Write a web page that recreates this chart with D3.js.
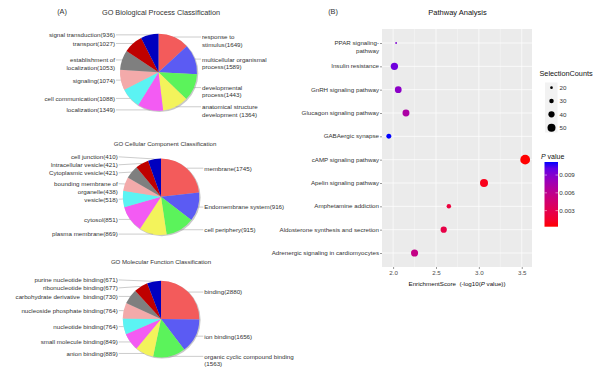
<!DOCTYPE html>
<html>
<head>
<meta charset="utf-8">
<script src="https://cdn.jsdelivr.net/npm/d3@7"></script>
<style>
  body { margin: 0; background: #fff; }
  svg { font-family: "Liberation Sans", Arial, sans-serif; }
</style>
</head>
<body>
<div id="chart"></div>
<script>
// slice colours (shared by all three pies, clockwise from 12 o'clock)
var sliceColors = ["#F35B5B", "#5B5BF3", "#5BF35B", "#F3F35B", "#F35BF3",
                   "#5BF3F3", "#F3AAAA", "#7F7F7F", "#BF0000", "#0000BF"];

// GO Biological Process ("|" = line break)
var bpNames = ["response to|stimulus", "multicellular organismal|process", "developmental|process",
               "anatomical structure|development ", "localization", "cell communication",
               "signaling", "establishment of|localization", "transport", "signal transduction"];
var bpValues = [1649, 1589, 1443, 1364, 1349, 1088, 1074, 1053, 1027, 936];

// GO Cellular Component
var ccNames = ["membrane", "Endomembrane system", "cell periphery", "plasma membrane", "cytosol",
               "vesicle", "bounding membrane of|organelle", "Cytoplasmic vesicle",
               "Intracellular vesicle", "cell junction"];
var ccValues = [1745, 916, 915, 869, 851, 518, 438, 421, 421, 410];

// GO Molecular Function
var mfNames = ["binding", "ion binding", "organic cyclic compound binding|", "anion binding",
               "small molecule binding", "nucleotide binding", "nucleoside phosphate binding",
               "carbohydrate derivative  binding", "ribonucleotide binding", "purine nucleotide binding"];
var mfValues = [2880, 1656, 1563, 889, 849, 764, 764, 730, 677, 671];

// Pathway analysis
var pathways = ["PPAR signaling|pathway", "Insulin resistance", "GnRH signaling pathway",
                "Glucagon signaling pathway", "GABAergic synapse", "cAMP signaling pathway",
                "Apelin signaling pathway", "Amphetamine addiction",
                "Aldosterone synthesis and secretion", "Adrenergic signaling in cardiomyocytes"];
var enrichment = [2.035, 2.015, 2.06, 2.15, 1.95, 3.54, 3.06, 2.65, 2.59, 2.25];
var counts = [15, 46, 43, 44, 33, 60, 50, 30, 40, 45];
var pValues = [0.0092, 0.0097, 0.0087, 0.0071, 0.0112, 0.00029, 0.00087, 0.0022, 0.0026, 0.0056];
var xTicks = [2.0, 2.5, 3.0, 3.5];
var xMinor = [2.25, 2.75, 3.25];
var sizeBreaks = [20, 30, 40, 50];
var pTicks = [0.003, 0.006, 0.009];

var svg = d3.select("#chart").append("svg")
            .attr("width", 600)
            .attr("height", 371);

var textColor = "#333";
var labelSize = 6.2;

// ---------- panel A ----------
svg.append("text")
   .attr("x", 62).attr("y", 13.5)
   .attr("text-anchor", "middle")
   .style("font-size", "7.3px")
   .attr("fill", textColor)
   .text("(A)");

function drawPie(names, values, cx, cy, r, title, titleX, titleY, titleSize)
{
    svg.append("text")
       .attr("x", titleX).attr("y", titleY)
       .attr("text-anchor", "middle")
       .style("font-size", titleSize + "px")
       .attr("fill", textColor)
       .text(title);

    var pie = d3.pie().sort(null).value(function(d) { return d.value; });
    var arcs = pie(values.map(function(v, i) { return {name: names[i], value: v, i: i}; }));
    var arc = d3.arc().innerRadius(0).outerRadius(r);

    var g = svg.append("g").attr("transform", "translate(" + cx + "," + cy + ")");

    // soft shadow under the pie
    g.append("circle")
     .attr("cx", 0.9).attr("cy", 0.9).attr("r", r + 0.4)
     .attr("fill", "#9a9a9a").attr("opacity", 0.55);

    g.selectAll("path.slice")
     .data(arcs)
     .enter().append("path")
     .attr("class", "slice")
     .attr("d", arc)
     .attr("fill", function(d) { return sliceColors[d.data.i]; });

    // labels sit at the height of each slice's mid angle
    var labels = arcs.map(function(d) {
        var mid = (d.startAngle + d.endAngle) / 2;
        var raw = d.data.name.split("|");
        var lines = [d.data.name + "(" + d.data.value + ")"];
        if (raw.length > 1) {
            lines = [raw[0], raw[1] + "(" + d.data.value + ")"];
        }
        return {
            ax: Math.sin(mid) * r,
            ay: -Math.cos(mid) * r,
            y: -Math.cos(mid) * r + 1,
            right: mid < Math.PI,
            lines: lines
        };
    });

    // push overlapping labels apart
    var lineH = 7.5;
    [true, false].forEach(function(side) {
        var group = labels.filter(function(l) { return l.right == side; })
                          .sort(function(a, b) { return a.y - b.y; });
        for (var it = 0; it < 60; it++) {
            for (var k = 1; k < group.length; k++) {
                var prev = group[k - 1], cur = group[k];
                var need = prev.y + lineH * prev.lines.length + 0.5;
                if (cur.y < need) {
                    var shift = (need - cur.y) / 2;
                    prev.y -= shift;
                    cur.y += shift;
                }
            }
        }
    });

    labels.forEach(function(l) {
        var tx = l.right ? r + 5 : -r - 5;
        g.append("line")
         .attr("x1", l.ax).attr("y1", l.ay)
         .attr("x2", l.right ? tx - 1 : tx + 1).attr("y2", l.y - 1)
         .attr("stroke", "#999")
         .attr("stroke-width", 0.5);
        var t = g.append("text")
                 .attr("x", tx).attr("y", l.y)
                 .attr("text-anchor", l.right ? "start" : "end")
                 .style("font-size", labelSize + "px")
                 .style("white-space", "pre")
                 .attr("fill", textColor);
        l.lines.forEach(function(s, j) {
            t.append("tspan")
             .attr("x", tx)
             .attr("y", l.y + j * lineH + 1.4)
             .text(s);
        });
    });
}

drawPie(bpNames, bpValues, 158.5, 72.3, 38.5, "GO Biological Process Classification", 161, 14.5, 7.3);
drawPie(ccNames, ccValues, 161, 196.7, 38.3, "GO Cellular Component Classification", 165, 145.5, 6.1);
drawPie(mfNames, mfValues, 161, 319, 38.3, "GO Molecular Function Classification", 161, 263.5, 6.1);

// ---------- panel B ----------
var plot = {left: 382, right: 532, top: 29, bottom: 267};

svg.append("text")
   .attr("x", 333).attr("y", 13.5)
   .attr("text-anchor", "middle")
   .style("font-size", "7.3px")
   .attr("fill", textColor)
   .text("(B)");

svg.append("text")
   .attr("x", 457.5).attr("y", 15)
   .attr("text-anchor", "middle")
   .style("font-size", "7.5px")
   .attr("fill", "#111")
   .text("Pathway Analysis");

var xMin = d3.min(enrichment), xMax = d3.max(enrichment);
var xPad = (xMax - xMin) * 0.05;
var xScale = d3.scaleLinear()
               .domain([xMin - xPad, xMax + xPad])
               .range([plot.left, plot.right]);

var yScale = d3.scalePoint()
               .domain(pathways)
               .range([plot.top, plot.bottom])
               .padding(0.6);

var rScale = d3.scaleLinear()
               .domain([20, 50])
               .range([1.35, 4.0]);

var pMin = d3.min(pValues), pMax = d3.max(pValues);
var colorScale = d3.scaleLinear()
                   .domain([pMin, pMax])
                   .range(["#FF0000", "#0000FF"])
                   .interpolate(d3.interpolateLab);

svg.append("rect")
   .attr("x", plot.left).attr("y", plot.top)
   .attr("width", plot.right - plot.left)
   .attr("height", plot.bottom - plot.top)
   .attr("fill", "#EBEBEB");

// grid
svg.selectAll("line.minor")
   .data(xMinor)
   .enter().append("line")
   .attr("x1", function(d) { return xScale(d); })
   .attr("x2", function(d) { return xScale(d); })
   .attr("y1", plot.top).attr("y2", plot.bottom)
   .attr("stroke", "#fff").attr("stroke-width", 0.35);

svg.selectAll("line.majorx")
   .data(xTicks)
   .enter().append("line")
   .attr("x1", function(d) { return xScale(d); })
   .attr("x2", function(d) { return xScale(d); })
   .attr("y1", plot.top).attr("y2", plot.bottom)
   .attr("stroke", "#fff").attr("stroke-width", 0.7);

svg.selectAll("line.majory")
   .data(pathways)
   .enter().append("line")
   .attr("x1", plot.left).attr("x2", plot.right)
   .attr("y1", function(d) { return yScale(d); })
   .attr("y2", function(d) { return yScale(d); })
   .attr("stroke", "#fff").attr("stroke-width", 0.7);

// points
svg.selectAll("circle.pt")
   .data(pathways)
   .enter().append("circle")
   .attr("class", "pt")
   .attr("cx", function(d, i) { return xScale(enrichment[i]); })
   .attr("cy", function(d) { return yScale(d); })
   .attr("r", function(d, i) { return rScale(counts[i]); })
   .attr("fill", function(d, i) { return colorScale(pValues[i]); });

// x axis
var xAxis = svg.append("g")
               .attr("transform", "translate(0," + plot.bottom + ")")
               .call(d3.axisBottom(xScale).tickValues(xTicks).tickSize(2).tickPadding(1.5)
                       .tickFormat(d3.format(".1f")));
xAxis.select(".domain").remove();
xAxis.selectAll("line").attr("stroke", "#333").attr("stroke-width", 0.5);
xAxis.selectAll("text")
     .attr("fill", "#4D4D4D")
     .style("font-size", "6.2px")
     .style("font-family", "Liberation Sans, Arial, sans-serif");

// y axis
var yAxis = svg.append("g")
               .attr("transform", "translate(" + plot.left + ",0)")
               .call(d3.axisLeft(yScale).tickSize(2).tickPadding(1.2).tickFormat(""));
yAxis.select(".domain").remove();
yAxis.selectAll("line").attr("stroke", "#333").attr("stroke-width", 0.5);

pathways.forEach(function(p) {
    var parts = p.split("|");
    var t = svg.append("text")
               .attr("text-anchor", "end")
               .style("font-size", "6.2px")
               .attr("fill", "#333");
    parts.forEach(function(s, j) {
        t.append("tspan")
         .attr("x", plot.left - 3)
         .attr("y", yScale(p) + 2.1 + j * 8)
         .text(j == 0 && parts.length > 1 ? s + "-" : s);
    });
});

// x axis title
var xt = svg.append("text")
            .attr("x", (plot.left + plot.right) / 2).attr("y", 286)
            .attr("text-anchor", "middle")
            .style("font-size", "6.2px")
            .style("white-space", "pre")
            .attr("fill", "#111");
xt.append("tspan").text("EnrichmentScore  (-log10(");
xt.append("tspan").style("font-style", "italic").text("P");
xt.append("tspan").text(" value))");

// size legend
svg.append("text")
   .attr("x", 539.5).attr("y", 76)
   .style("font-size", "7.3px")
   .attr("fill", "#111")
   .text("SelectionCounts");

var keyY = d3.scaleLinear().domain([20, 50]).range([87.7, 127.7]);
svg.append("rect")
   .attr("x", 545).attr("y", 82.5)
   .attr("width", 12.5).attr("height", 50)
   .attr("fill", "#F2F2F2");

svg.selectAll("circle.key")
   .data(sizeBreaks)
   .enter().append("circle")
   .attr("cx", 551.5)
   .attr("cy", function(d) { return keyY(d); })
   .attr("r", function(d) { return rScale(d); })
   .attr("fill", "#000");

svg.selectAll("text.key")
   .data(sizeBreaks)
   .enter().append("text")
   .attr("x", 559.5)
   .attr("y", function(d) { return keyY(d) + 2.2; })
   .style("font-size", "6.2px")
   .attr("fill", "#333")
   .text(function(d) { return d; });

// colour legend
var pt = svg.append("text")
            .attr("x", 541).attr("y", 158.5)
            .style("font-size", "7px")
            .style("white-space", "pre")
            .attr("fill", "#111");
pt.append("tspan").style("font-style", "italic").text("P");
pt.append("tspan").text(" value");

var bar = {x: 544.5, w: 13.5, top: 162, bottom: 226.7};
var barY = d3.scaleLinear().domain([pMax, pMin]).range([bar.top, bar.bottom]);

var defs = svg.append("defs");
var grad = defs.append("linearGradient")
               .attr("id", "pgrad")
               .attr("x1", 0).attr("x2", 0).attr("y1", 0).attr("y2", 1);
d3.range(0, 1.0001, 0.1).forEach(function(t) {
    grad.append("stop")
        .attr("offset", t)
        .attr("stop-color", colorScale(pMax - t * (pMax - pMin)));
});

svg.append("rect")
   .attr("x", bar.x).attr("y", bar.top)
   .attr("width", bar.w).attr("height", bar.bottom - bar.top)
   .attr("fill", "url(#pgrad)");

pTicks.forEach(function(v) {
    var y = barY(v);
    svg.append("line")
       .attr("x1", bar.x).attr("x2", bar.x + 2.5)
       .attr("y1", y).attr("y2", y)
       .attr("stroke", "#fff").attr("stroke-width", 0.5);
    svg.append("line")
       .attr("x1", bar.x + bar.w - 2.5).attr("x2", bar.x + bar.w)
       .attr("y1", y).attr("y2", y)
       .attr("stroke", "#fff").attr("stroke-width", 0.5);
    svg.append("text")
       .attr("x", bar.x + bar.w + 1.3)
       .attr("y", y + 2.2)
       .style("font-size", "6.2px")
       .attr("fill", "#333")
       .text(d3.format(".3f")(v));
});
</script>
</body>
</html>
